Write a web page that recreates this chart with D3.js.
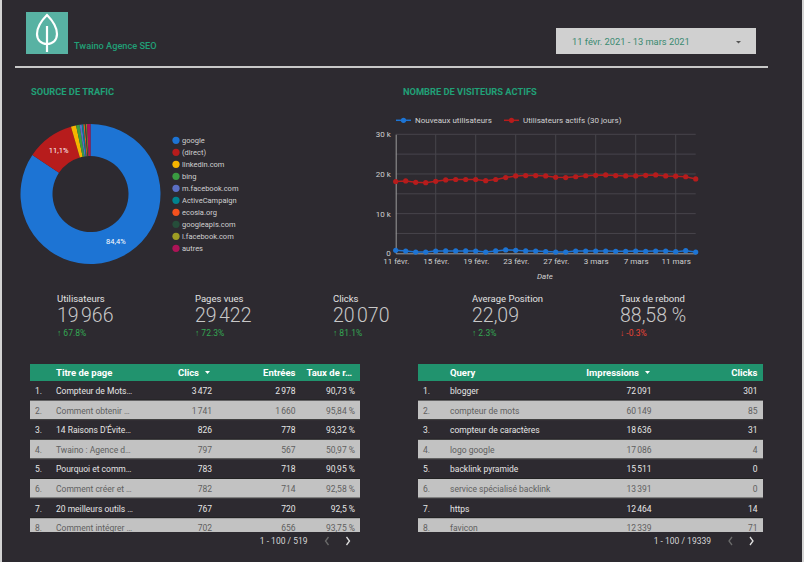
<!DOCTYPE html>
<html>
<head>
<meta charset="utf-8">
<script src="https://cdn.jsdelivr.net/npm/d3@7"></script>
<style>
  body { margin:0; background:#2d2a30; }
  text { font-family: Roboto, "Noto Sans", sans-serif; }
</style>
</head>
<body>
<div id="svg1"></div>
<script>
// source de trafic
var sources = ["google","(direct)","linkedin.com","bing","m.facebook.com","ActiveCampaign","ecosia.org","googleapis.com","l.facebook.com","autres"];
var sourcesPct = [84.4, 11.1, 1.2, 0.8, 0.5, 0.4, 0.3, 0.3, 0.2, 0.8];
var sourcesCouleurs = ["#1d74d4","#b71c1c","#f6b400","#3a9b41","#5b6fc4","#00838f","#f4511e","#264d3a","#9e9d24","#ad1457"];

// visiteurs actifs (11 févr. -> 13 mars)
var jours = d3.timeDay.range(new Date(2021,1,11), new Date(2021,2,14));
var mois = ["janv.","févr.","mars","avr.","mai","juin","juil.","août","sept.","oct.","nov.","déc."];
var nouveaux = [750,550,300,300,550,600,600,600,550,300,600,850,750,600,550,450,300,300,550,550,550,550,500,500,550,500,550,550,400,650,300];
var actifs = [18100,18250,17900,17800,18150,18500,18600,18600,18600,18300,18600,19100,19500,19600,19600,19500,19150,19100,19300,19550,19650,19750,19600,19500,19500,19650,19750,19500,19450,19300,18750];

// kpi
var kpiNoms = ["Utilisateurs","Pages vues","Clicks","Average Position","Taux de rebond"];
var kpiValeurs = ["19\u202f966","29\u202f422","20\u202f070","22,09","88,58 %"];
var kpiDeltas = [67.8, 72.3, 81.1, 2.3, -0.3];

// tableaux
var pagesTitres = ["Compteur de Mots…","Comment obtenir …","14 Raisons D'Évite…","Twaino : Agence d…","Pourquoi et comm…","Comment créer et …","20 meilleurs outils …","Comment intégrer …"];
var pagesClics = [3472,1741,826,797,783,782,767,702];
var pagesEntrees = [2978,1660,778,567,718,714,720,656];
var pagesTaux = [90.73,95.84,93.32,50.97,90.95,92.58,92.5,93.75];

var requetes = ["blogger","compteur de mots","compteur de caractères","logo google","backlink pyramide","service spécialisé backlink","https","favicon"];
var impressions = [72091,60149,18636,17086,15511,13391,12464,12339];
var requetesClics = [301,85,31,4,0,0,14,71];

var vert = "#21a077";
var loc = d3.formatLocale({decimal:",", thousands:"\u202f", grouping:[3], currency:["","€"]});
var fmtNb = loc.format(",d");
var fmtPct = function(v){ return String(v).replace(".", ",") + " %"; };

var svg = d3.select('#svg1').append("svg").attr("width", 804).attr("height", 562);
svg.append("rect").attr("width", 804).attr("height", 562).attr("fill", "#2d2a30");
svg.append("rect").attr("x", 0).attr("width", 2).attr("height", 562).attr("fill", "#d4d4d4");
svg.append("rect").attr("x", 802).attr("width", 2).attr("height", 562).attr("fill", "#d4d4d4");

// entete
svg.append("rect").attr("x", 26).attr("y", 12).attr("width", 42).attr("height", 42).attr("fill", "#58b2a3");
svg.append("path").attr("d", "M47,15 C41,21 37,27 37,34 C37,40 41,44 47,44 C53,44 57,40 57,34 C57,27 53,21 47,15 Z")
  .attr("fill", "none").attr("stroke", "#fff").attr("stroke-width", 2.2);
svg.append("line").attr("x1", 47).attr("x2", 47).attr("y1", 26).attr("y2", 52).attr("stroke", "#fff").attr("stroke-width", 2.2);
svg.append("text").attr("x", 74).attr("y", 49).attr("fill", vert).attr("font-size", 9.2).attr("font-weight", 500).text("Twaino Agence SEO");

svg.append("rect").attr("x", 556).attr("y", 28).attr("width", 200).attr("height", 26).attr("fill", "#d0d0d0");
svg.append("text").attr("x", 572).attr("y", 45).attr("fill", "#3a8a70").attr("font-size", 9.3).text("11 févr. 2021 - 13 mars 2021");
svg.append("path").attr("d", "M736,41 L741,41 L738.5,43.5 Z").attr("fill", "#555");
svg.append("rect").attr("x", 15).attr("y", 66).attr("width", 753).attr("height", 2).attr("fill", "#c8c8c8");

svg.append("text").attr("x", 31).attr("y", 95).attr("fill", vert).attr("font-size", 9.3).attr("font-weight", 700).text("SOURCE DE TRAFIC");
svg.append("text").attr("x", 403).attr("y", 95).attr("fill", vert).attr("font-size", 9.3).attr("font-weight", 700).text("NOMBRE DE VISITEURS ACTIFS");

// donut
var pie = d3.pie().sort(null).value(function(d){ return d; });
var arc = d3.arc().innerRadius(38).outerRadius(70);
var g = svg.append("g").attr("transform", "translate(90.5,194)");
var arcs = pie(sourcesPct);
g.selectAll('.slice').data(arcs).enter().append("path").classed("slice", 1)
  .attr("d", arc).attr("fill", function(d, i){ return sourcesCouleurs[i]; });
g.selectAll('.lbl').data(arcs.filter(function(d){ return d.data > 5; })).enter().append("text").classed("lbl", 1)
  .attr("transform", function(d){ return "translate(" + arc.centroid(d) + ")"; })
  .attr("text-anchor", "middle").attr("dy", "0.35em").attr("fill", "#fff").attr("font-size", 7.5)
  .text(function(d){ return String(d.data).replace(".", ",") + "%"; });

var leg = svg.selectAll('.leg').data(sources).enter().append("g").classed("leg", 1)
  .attr("transform", function(d, i){ return "translate(176," + (140.3 + i * 12) + ")"; });
leg.append("circle").attr("r", 3.6).attr("fill", function(d, i){ return sourcesCouleurs[i]; });
leg.append("text").attr("x", 6).attr("dy", "0.35em").attr("fill", "#d0d0d0").attr("font-size", 7.5).text(function(d){ return d; });

// courbes
var x = d3.scaleTime().domain([jours[0], jours[jours.length - 1]]).range([395.7, 695.7]);
var y = d3.scaleLinear().domain([0, 30000]).range([253.3, 134.3]);
var tickJours = jours.filter(function(d, i){ return i % 4 == 0; });

svg.selectAll('.hgrid').data(d3.range(5000, 30001, 5000)).enter().append("line").classed("hgrid", 1)
  .attr("x1", x.range()[0]).attr("x2", x.range()[1]).attr("y1", function(d){ return y(d); }).attr("y2", function(d){ return y(d); })
  .attr("stroke", "#47444b").attr("stroke-width", 1);
svg.selectAll('.vgrid').data(tickJours.slice(1)).enter().append("line").classed("vgrid", 1)
  .attr("x1", function(d){ return x(d); }).attr("x2", function(d){ return x(d); }).attr("y1", y(30000)).attr("y2", y(0))
  .attr("stroke", "#47444b").attr("stroke-width", 1);

var ax = svg.append("g").attr("transform", "translate(0," + y(0) + ")")
  .call(d3.axisBottom(x).tickValues(tickJours).tickSize(0).tickPadding(5)
    .tickFormat(function(d){ return d.getDate() + " " + mois[d.getMonth()]; }));
ax.select(".domain").attr("stroke", "#9a9a9a");
ax.selectAll("text").attr("fill", "#cfcfcf").attr("font-size", 8);

var ay = svg.append("g").attr("transform", "translate(" + x.range()[0] + ",0)")
  .call(d3.axisLeft(y).tickValues([0, 10000, 20000, 30000]).tickSize(0).tickPadding(5)
    .tickFormat(function(d){ return d == 0 ? "0" : (d / 1000) + " k"; }));
ay.select(".domain").attr("stroke", "#9a9a9a");
ay.selectAll("text").attr("fill", "#cfcfcf").attr("font-size", 8);

svg.append("text").attr("x", 545).attr("y", 279).attr("text-anchor", "middle").attr("fill", "#cfcfcf")
  .attr("font-size", 8).attr("font-style", "italic").text("Date");

var series = [{nom:"Nouveaux utilisateurs", v:nouveaux, c:"#1d74d4"}, {nom:"Utilisateurs actifs (30 jours)", v:actifs, c:"#b71c1c"}];
var ligne = d3.line().x(function(d, i){ return x(jours[i]); }).y(function(d){ return y(d); });
series.forEach(function(s){
  svg.append("path").attr("d", ligne(s.v)).attr("fill", "none").attr("stroke", s.c).attr("stroke-width", 1.5);
  svg.selectAll(null).data(s.v).enter().append("circle")
    .attr("cx", function(d, i){ return x(jours[i]); }).attr("cy", function(d){ return y(d); })
    .attr("r", 2.6).attr("fill", s.c);
});

var legX = [396, 504];
series.forEach(function(s, i){
  var lg = svg.append("g").attr("transform", "translate(" + legX[i] + ",120.3)");
  lg.append("line").attr("x1", 0).attr("x2", 15).attr("stroke", s.c).attr("stroke-width", 1.5);
  lg.append("circle").attr("cx", 7.5).attr("r", 2.6).attr("fill", s.c);
  lg.append("text").attr("x", 19).attr("dy", "0.35em").attr("fill", "#d0d0d0").attr("font-size", 8).text(s.nom);
});

// kpi
var kpiX = [57, 195, 333, 472, 620];
kpiNoms.forEach(function(n, i){
  var k = svg.append("g").attr("transform", "translate(" + kpiX[i] + ",0)");
  k.append("text").attr("y", 302).attr("fill", "#e2e2e2").attr("font-size", 9.5).text(n);
  k.append("text").attr("y", 322).attr("fill", "#c8c8c8").attr("font-size", 19.5).attr("font-weight", 300).text(kpiValeurs[i]);
  var up = kpiDeltas[i] >= 0;
  k.append("text").attr("y", 336).attr("fill", up ? "#34a853" : "#ea4335").attr("font-size", 8.5)
    .text((up ? "↑ " : "↓ ") + String(kpiDeltas[i]) + "%");
});

// tableaux
function DessinTable(x0, largeur, colonnes, lignes, pagination, pagX, id) {
  var t = svg.append("g");
  t.append("rect").attr("x", x0).attr("y", 364).attr("width", largeur).attr("height", 17).attr("fill", "#21936e");
  colonnes.forEach(function(c){
    t.append("text").attr("x", c.hx).attr("y", 376).attr("text-anchor", c.hanchor || c.anchor).attr("fill", "#fff")
      .attr("font-size", 9.5).attr("font-weight", 700).text(c.titre);
    if (c.tri) t.append("path").attr("d", "M" + (c.hx + 6) + ",371 l5,0 l-2.5,3 Z").attr("fill", "#fff");
  });
  svg.append("clipPath").attr("id", id).append("rect").attr("x", x0).attr("y", 381).attr("width", largeur).attr("height", 151);
  var corps = t.append("g").attr("clip-path", "url(#" + id + ")");
  var rh = 19.6;
  var r = corps.selectAll('.row').data(lignes).enter().append("g").classed("row", 1)
    .attr("transform", function(d, i){ return "translate(0," + (381 + i * rh) + ")"; });
  r.append("rect").attr("x", x0).attr("width", largeur).attr("height", rh)
    .attr("fill", function(d, i){ return i % 2 ? "#c2c2c2" : "#2d2a30"; });
  r.append("line").attr("x1", x0).attr("x2", x0 + largeur).attr("y1", rh - 0.5).attr("y2", rh - 0.5).attr("stroke", "#222").attr("stroke-width", 1);
  r.append("text").attr("x", x0 + 5).attr("y", 13).attr("font-size", 8.5)
    .attr("fill", function(d, i){ return i % 2 ? "#5f5f5f" : "#e6e6e6"; })
    .text(function(d, i){ return (i + 1) + "."; });
  colonnes.forEach(function(c, j){
    r.append("text").attr("x", c.x).attr("y", 13).attr("text-anchor", c.anchor).attr("font-size", 8.5)
      .attr("fill", function(d, i){ return i % 2 ? "#5f5f5f" : "#e6e6e6"; })
      .text(function(d){ return d[j]; });
  });
  t.append("text").attr("x", pagX).attr("y", 544).attr("text-anchor", "end").attr("fill", "#d6d6d6").attr("font-size", 8.5).text(pagination);
  t.append("path").attr("d", "M" + (pagX + 21) + ",537 l-3,4 l3,4").attr("fill", "none").attr("stroke", "#6a6a6a").attr("stroke-width", 1.3);
  t.append("path").attr("d", "M" + (pagX + 39) + ",537 l3,4 l-3,4").attr("fill", "none").attr("stroke", "#e0e0e0").attr("stroke-width", 1.3);
}

var lignesPages = pagesTitres.map(function(d, i){ return [d, fmtNb(pagesClics[i]), fmtNb(pagesEntrees[i]), fmtPct(pagesTaux[i])]; });
DessinTable(30, 330, [
  {titre:"Titre de page", hx:56, x:56, anchor:"start"},
  {titre:"Clics", hx:199, x:212, anchor:"end", tri:true},
  {titre:"Entrées", hx:295.5, x:295.5, anchor:"end"},
  {titre:"Taux de r…", hx:306.5, x:355, anchor:"end", hanchor:"start"}
], lignesPages, "1 - 100 / 519", 307.5, "clipA");

var lignesReq = requetes.map(function(d, i){ return [d, fmtNb(impressions[i]), fmtNb(requetesClics[i])]; });
DessinTable(418, 345, [
  {titre:"Query", hx:450, x:450, anchor:"start"},
  {titre:"Impressions", hx:639, x:651.5, anchor:"end", tri:true},
  {titre:"Clicks", hx:757.5, x:757.5, anchor:"end"}
], lignesReq, "1 - 100 / 19339", 711, "clipB");
</script>
</body>
</html>
